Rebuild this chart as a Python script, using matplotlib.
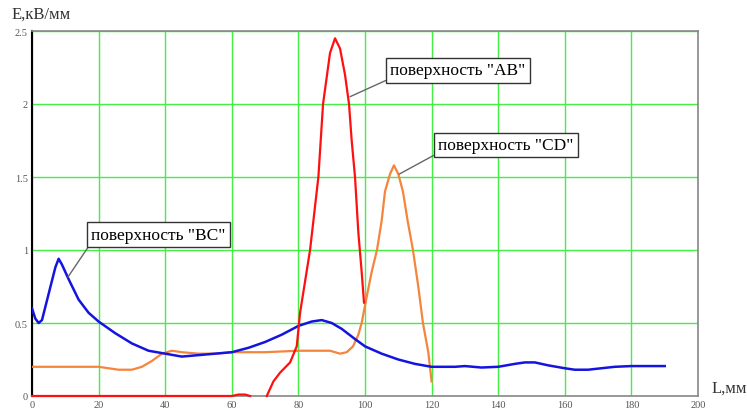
import matplotlib
matplotlib.use("Agg")
import matplotlib.pyplot as plt
import numpy as np

# ---- data ----
bc_x = [0, 1, 2, 3, 5, 7, 8, 9, 11, 14, 17, 20, 25, 30, 35, 40, 45, 50, 55, 60, 65, 70,
        75, 80, 84, 87, 90, 93, 97, 100, 105, 110, 115, 120, 127, 130, 135, 140, 145,
        148, 151, 155, 160, 163, 167, 175, 180, 190]
bc_y = [0.6, 0.53, 0.5, 0.52, 0.7, 0.88, 0.94, 0.9, 0.8, 0.66, 0.57, 0.51, 0.43, 0.36,
        0.31, 0.29, 0.27, 0.28, 0.29, 0.30, 0.33, 0.37, 0.42, 0.48, 0.51, 0.52, 0.5, 0.46,
        0.39, 0.34, 0.29, 0.25, 0.22, 0.20, 0.20, 0.205, 0.195, 0.20, 0.22, 0.23, 0.23,
        0.21, 0.19, 0.18, 0.18, 0.20, 0.205, 0.205]

ab_x = [0, 60, 62, 64, 65.5, 67, 69, 70.5, 72.5, 74.5, 77.5, 79.5, 80.5, 83.5, 86,
        87.4, 89.5, 91, 92.5, 94, 95.2, 96, 97, 98, 99, 99.7]
ab_y = [0, 0, 0.01, 0.01, 0, np.nan, np.nan, 0, 0.1, 0.16, 0.23, 0.34, 0.57, 1.0, 1.5,
        2.0, 2.35, 2.45, 2.38, 2.2, 2.0, 1.75, 1.5, 1.12, 0.85, 0.64]

cd_x = [0, 20, 23, 26, 30, 33, 36, 39, 42, 45, 50, 55, 60, 65, 70, 75, 80, 85, 89.5,
        92.5, 94.5, 96.4, 98, 99, 100.6, 102, 103.6, 105, 106, 107.5, 108.7, 110, 111.4,
        112.8, 114.4, 116, 117.4, 119, 120]
cd_y = [0.2, 0.2, 0.19, 0.18, 0.18, 0.2, 0.24, 0.29, 0.31, 0.3, 0.29, 0.29, 0.3, 0.3,
        0.3, 0.305, 0.31, 0.31, 0.31, 0.29, 0.30, 0.34, 0.42, 0.5, 0.69, 0.85, 1.0, 1.2,
        1.4, 1.52, 1.58, 1.52, 1.4, 1.2, 1.0, 0.75, 0.5, 0.3, 0.1]

x_ticks = [0, 20, 40, 60, 80, 100, 120, 140, 160, 180, 200]
y_ticks = [0, 0.5, 1, 1.5, 2, 2.5]
y_tick_labels = ["0", "0.5", "1", "1.5", "2", "2.5"]

label_ab = 'поверхность "AB"'
label_cd = 'поверхность "CD"'
label_bc = 'поверхность "BC"'

serif = ["Liberation Serif", "DejaVu Serif"]

fig = plt.figure(figsize=(7.47, 4.14), dpi=100)
ax = fig.add_axes([32 / 747, 1 - 397 / 414, (698 - 32) / 747, (397 - 32) / 414])

ax.set_xlim(0, 200)
ax.set_ylim(0, 2.5)
ax.set_xticks(x_ticks)
ax.set_yticks(y_ticks)
ax.set_xticklabels([str(v) for v in x_ticks], fontfamily=serif, fontsize=7.5, color="#555555")
ax.set_yticklabels(y_tick_labels, fontfamily=serif, fontsize=7.5, color="#555555")
ax.tick_params(length=0, pad=3)
ax.grid(True, color="#44ee44", lw=1.0, zorder=0)
ax.set_axisbelow(True)

for s in ["top", "right", "bottom"]:
    ax.spines[s].set_color("#888888")
    ax.spines[s].set_linewidth(1.2)
ax.spines["left"].set_color("black")
ax.spines["left"].set_linewidth(1.5)

ax.plot(cd_x, cd_y, color="#f5843c", lw=1.6, zorder=3)
ax.plot(bc_x, bc_y, color="#1414e0", lw=1.8, zorder=4)
ax.plot(ab_x, ab_y, color="#ff1010", lw=1.6, zorder=5, clip_on=False)

bbox = dict(boxstyle="square,pad=0.25", fc="white", ec="#333333", lw=1.0)
arrow = dict(arrowstyle="-", color="#666666", lw=1.0, shrinkA=0, shrinkB=0, relpos=(0, 0))

ax.annotate(label_ab, xy=(95.5, 2.05), xytext=(107.6, 2.23), textcoords="data",
            ha="left", va="center", fontsize=12.5, fontfamily=serif, bbox=bbox,
            arrowprops=arrow, zorder=6)
ax.annotate(label_cd, xy=(110.3, 1.52), xytext=(122.0, 1.72), textcoords="data",
            ha="left", va="center", fontsize=12.5, fontfamily=serif, bbox=bbox,
            arrowprops=arrow, zorder=6)
ax.annotate(label_bc, xy=(10.8, 0.815), xytext=(17.8, 1.106), textcoords="data",
            ha="left", va="center", fontsize=12.5, fontfamily=serif, bbox=bbox,
            arrowprops=arrow, zorder=6)

fig.text(12 / 747, 1 - 15 / 414, "E,кВ/мм", fontfamily=serif, fontsize=12,
         color="#333333", ha="left", va="center")
fig.text(712 / 747, 1 - 389 / 414, "L,мм", fontfamily=serif, fontsize=12,
         color="#333333", ha="left", va="center")

fig.savefig("out.png", dpi=100)
